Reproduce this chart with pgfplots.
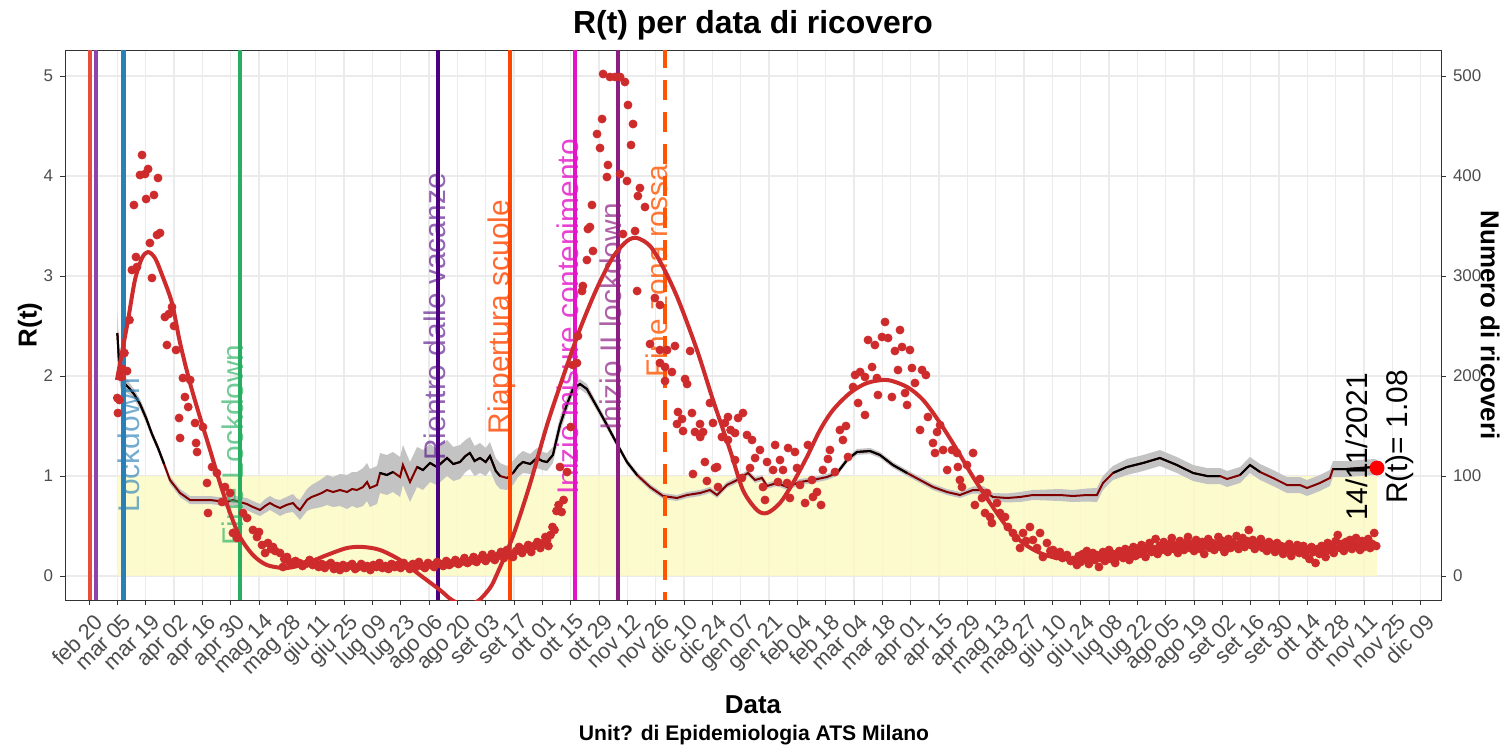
\documentclass[border=0pt]{standalone}
\usepackage{fontspec}
\setmainfont{Liberation Sans}
\usepackage{pgfplots}
\pgfplotsset{compat=1.18}
\usepackage{pgfplotstable}
\usepgfplotslibrary{fillbetween}

\definecolor{ptred}{RGB}{206,44,44}
\definecolor{rdark}{RGB}{128,0,0}
\definecolor{ribbon}{RGB}{195,195,195}
\definecolor{band}{RGB}{252,250,196}
\definecolor{gridc}{RGB}{235,235,235}
\definecolor{frame}{RGB}{51,51,51}
\definecolor{ticktxt}{RGB}{77,77,77}
\definecolor{vred}{RGB}{231,76,60}
\definecolor{vpurple}{RGB}{142,68,173}
\definecolor{lockblue}{RGB}{41,128,185}
\definecolor{finegreen}{RGB}{39,174,96}
\definecolor{rientro}{RGB}{75,0,130}
\definecolor{scuole}{RGB}{255,69,0}
\definecolor{misure}{RGB}{228,18,200}
\definecolor{lockII}{RGB}{140,30,130}
\definecolor{zonarossa}{RGB}{255,85,0}

% R(t) by day since 20/02/2020, w = half width of the band
\pgfplotstableread{
day R w
14 2.43 0.22
14.8 2.15 0.18
15.8 1.98 0.12
17.8 1.92 0.08
19.8 1.88 0.06
22.2 1.82 0.05
25.2 1.72 0.05
28.2 1.58 0.05
31.1 1.42 0.04
34.1 1.28 0.04
37.1 1.12 0.04
40.0 0.96 0.04
45.0 0.83 0.04
49.9 0.76 0.04
55 0.76 0.04
59.8 0.76 0.04
64 0.75 0.04
68.2 0.74 0.05
71 0.76 0.05
74.6 0.74 0.05
78 0.72 0.06
81.0 0.69 0.06
84.5 0.66 0.06
87 0.70 0.07
89.4 0.73 0.07
92 0.70 0.07
94.4 0.68 0.08
97.5 0.71 0.08
100.8 0.73 0.09
102.5 0.69 0.09
104.2 0.66 0.10
107.7 0.76 0.11
110 0.79 0.12
112.6 0.81 0.13
115 0.83 0.14
117.6 0.86 0.15
120.6 0.84 0.15
124 0.86 0.16
127.5 0.84 0.17
130 0.87 0.17
132.4 0.86 0.18
135.4 0.89 0.19
137.4 0.94 0.19
138.8 0.88 0.19
142.3 0.91 0.19
143.8 1.03 0.20
147.2 1.01 0.20
150.2 1.04 0.20
153.7 0.99 0.20
155.1 1.11 0.20
158.6 0.94 0.20
162.1 1.09 0.20
165.0 1.06 0.20
168.5 1.13 0.19
171.9 1.09 0.18
176.9 1.18 0.18
180 1.12 0.17
183.3 1.14 0.17
186 1.20 0.16
188.2 1.23 0.16
190.5 1.15 0.15
193.2 1.18 0.15
196 1.14 0.14
198.1 1.20 0.14
201 1.05 0.13
203.1 1.00 0.13
206.5 0.98 0.12
209.5 1.03 0.12
212 1.10 0.11
214.4 1.14 0.11
218 1.12 0.10
221.3 1.18 0.10
224 1.15 0.09
226.3 1.14 0.09
229.2 1.21 0.08
232.7 1.51 0.08
236.2 1.72 0.07
239.1 1.87 0.06
242.6 1.92 0.05
246.0 1.87 0.05
251.0 1.69 0.04
255.9 1.51 0.04
260.9 1.32 0.03
265.8 1.14 0.03
270.8 1.01 0.03
277.2 0.89 0.03
283.6 0.80 0.03
290.5 0.78 0.03
295.5 0.81 0.03
301.9 0.83 0.03
306.8 0.86 0.03
310.3 0.81 0.03
315.2 0.91 0.03
320.2 0.96 0.03
325.6 1.03 0.03
329.1 0.96 0.03
332.5 0.98 0.03
335.0 0.90 0.03
339.9 0.93 0.03
344.9 0.89 0.03
351.3 0.94 0.03
357.7 0.96 0.03
364.6 0.99 0.03
369.6 1.03 0.03
374.5 1.16 0.03
379.4 1.24 0.03
385.9 1.25 0.03
390.8 1.21 0.03
397.2 1.11 0.03
404.2 1.03 0.03
410.6 0.96 0.03
417.0 0.89 0.03
423.9 0.84 0.03
430.3 0.81 0.03
436.8 0.86 0.035
441.7 0.86 0.04
446.6 0.79 0.04
453.6 0.78 0.045
460.0 0.79 0.05
466.4 0.81 0.05
473.3 0.81 0.055
479.7 0.81 0.06
486.2 0.80 0.06
493.1 0.81 0.065
498.0 0.81 0.07
501.0 0.93 0.07
505.9 1.03 0.07
512.8 1.09 0.08
520.8 1.13 0.08
529.1 1.18 0.08
537.5 1.11 0.08
545.5 1.03 0.08
552.4 1.00 0.08
558.8 1.00 0.08
562.3 0.97 0.08
568.7 1.01 0.08
573.6 1.11 0.08
578.6 1.04 0.08
585.0 0.98 0.08
591.9 0.91 0.08
598.3 0.91 0.08
601.8 0.88 0.08
608.2 0.93 0.08
613.1 0.98 0.08
614.6 1.07 0.08
621.5 1.07 0.08
627.9 1.08 0.08
635.3 1.09 0.08
636.4 1.08 0.08
}\rtdata

\newcommand{\evfont}{\fontsize{15}{18}\selectfont}

\begin{document}
\begin{tikzpicture}
\begin{axis}[
  at={(0,0)}, anchor=south west,
  width=688bp, height=275bp, scale only axis,
  xmin=-11.86, xmax=668, ymin=-0.24, ymax=5.26,
  axis line style={frame, line width=0.5bp},
  tick pos=left, tick align=outside,
  major tick length=2.5bp,
  tick style={frame, line width=0.5bp},
  xtick={0,14,...,658},
  xticklabels={feb 20,mar 05,mar 19,apr 02,apr 16,apr 30,mag 14,mag 28,giu 11,giu 25,lug 09,lug 23,ago 06,ago 20,set 03,set 17,ott 01,ott 15,ott 29,nov 12,nov 26,dic 10,dic 24,gen 07,gen 21,feb 04,feb 18,mar 04,mar 18,apr 01,apr 15,apr 29,mag 13,mag 27,giu 10,giu 24,lug 08,lug 22,ago 05,ago 19,set 02,set 16,set 30,ott 14,ott 28,nov 11,nov 25,dic 09},
  ytick={0,1,2,3,4,5},
  /pgf/number format/assume math mode=true,
  xticklabel style={font=\fontsize{11}{13}\selectfont, text=ticktxt, rotate=45, anchor=north east, inner sep=1bp, yshift=-3bp},
  yticklabel style={font=\fontsize{8.5}{10}\selectfont, text=ticktxt},
  grid=major, grid style={gridc, line width=0.7bp},
]
\addplot[fill=band, fill opacity=0.85, draw=none, on layer=pre main] coordinates {(14,0) (636.4,0) (636.4,1) (14,1)} -- cycle;
\addplot[draw=none, name path=hi] table[x=day, y expr=\thisrow{R}+\thisrow{w}] {\rtdata};
\addplot[draw=none, name path=lo] table[x=day, y expr=\thisrow{R}-\thisrow{w}] {\rtdata};
\addplot[ribbon, draw=none] fill between[of=hi and lo];
\addplot[rdark, line width=1bp] table[x=day, y=R] {\rtdata};
\addplot[black, line width=1bp, restrict y to domain=1:10, unbounded coords=jump] table[x=day, y=R] {\rtdata};

\addplot[vred, line width=2.2bp] coordinates {(0.5,-1) (0.5,6)};
\addplot[vpurple, line width=2.2bp] coordinates {(3.5,-1) (3.5,6)};
\addplot[lockblue, line width=2.2bp] coordinates {(17,-1) (17,6)};
\addplot[finegreen, line width=2.2bp] coordinates {(74.5,-1) (74.5,6)};
\addplot[rientro, line width=2.2bp] coordinates {(172.5,-1) (172.5,6)};
\addplot[scuole, line width=2.2bp] coordinates {(208,-1) (208,6)};
\addplot[misure, line width=2.2bp] coordinates {(240,-1) (240,6)};
\addplot[lockII, line width=2.2bp] coordinates {(261.4,-1) (261.4,6)};
\addplot[zonarossa, line width=2.2bp, dash pattern=on 10bp off 6bp] coordinates {(284.6,-1) (284.6,6)};

\node[rotate=90, text=lockblue, text opacity=0.65, font=\evfont] at (axis cs:19.8,1.31) {Lockdown};
\node[rotate=90, text=finegreen, text opacity=0.65, font=\evfont] at (axis cs:70.9,1.31) {Fine Lockdown};
\node[rotate=90, text=rientro, text opacity=0.6, font=\evfont] at (axis cs:171,2.59) {Rientro dalle vacanze};
\node[rotate=90, text=scuole, text opacity=0.8, font=\evfont] at (axis cs:204,2.59) {Riapertura scuole};
\node[rotate=90, text=misure, text opacity=0.8, font=\evfont] at (axis cs:236.7,2.59) {Inizio misure contenimento};
\node[rotate=90, text=lockII, text opacity=0.7, font=\evfont] at (axis cs:258,2.59) {Inizio II lockdown};
\node[rotate=90, text=zonarossa, text opacity=0.8, font=\evfont] at (axis cs:280.6,3.05) {Fine zona rossa};

\addplot[only marks, mark=*, mark size=3.5bp, color=red] coordinates {(636.4,1.08)};
\node[rotate=90, font=\evfont] at (axis cs:626.5,1.29) {14/11/2021};
\node[rotate=90, font=\evfont] at (axis cs:647.7,1.39) {R(t)= 1.08};
\end{axis}

\begin{axis}[
  at={(0,0)}, anchor=south west,
  width=688bp, height=275bp, scale only axis,
  xmin=-11.86, xmax=668, ymin=-24, ymax=526,
  axis x line=none, axis y line*=right,
  axis line style={frame, line width=0.5bp},
  tick align=outside, major tick length=2.5bp,
  tick style={frame, line width=0.5bp},
  ytick={0,100,...,500},
  /pgf/number format/assume math mode=true,
  yticklabel style={font=\fontsize{8.5}{10}\selectfont, text=ticktxt},
]
\addplot[only marks, mark=*, mark size=2bp, color=ptred] coordinates {
(14,178) (14.3,163) (15,176) (16,199) (16.5,207) (17.5,223) (18.8,205) (20,256) (21.2,306) (22.2,371)
(23.2,319) (23.7,309) (25.2,401) (26.2,421) (27.7,402) (28.2,377) (29.2,407) (30.1,333) (31.1,298) (32.1,381)
(33.6,341) (34.1,398) (35.1,343) (37.5,259) (38.5,231) (39.5,262) (41,269) (42,250) (43,226) (44.5,158)
(45,138) (46.4,198) (47.4,179) (49,169) (50,196) (52.4,153) (52.9,133) (53.4,124) (56.3,149) (58.3,93)
(58.8,63) (60.8,109) (63.2,103) (65.7,74) (67.2,89) (69.7,83) (71.1,43) (73.1,38) (76.1,63) (78.1,58)
(81,46) (83,39) (84,44) (85.5,31) (87,23) (88.4,33) (90,27) (90.9,29) (92,25) (94.4,23)
(95.8,9) (96.5,17) (97.8,19) (99,14) (100.5,12) (102,15) (104,13) (105.5,10) (107,12) (109,16)
(110.5,11) (112,14) (113.5,9) (115,12) (116.5,8) (118,11) (119.5,13) (121,7) (122.5,10) (124,6)
(125.5,11) (127,8) (128.5,10) (130,12) (131.5,7) (133,9) (134.5,12) (136,8) (137.5,10) (139,6)
(140.5,11) (142,9) (143.5,13) (145,8) (146.5,10) (148,7) (149.5,12) (151,9) (152.5,11) (154,8)
(155.5,13) (157,10) (158.5,7) (160,12) (161.5,9) (163,14) (164.5,10) (166,8) (167.5,13) (169,11)
(170.5,9) (172,14) (173.5,12) (175,10) (176.5,15) (178,11) (179.5,13) (181,16) (182.5,12) (184,14)
(185.5,18) (187,13) (188.5,15) (190,19) (191.5,14) (193,17) (194.5,21) (196,15) (197.5,18) (199,22)
(200.5,16) (202,20) (203.5,24) (205,18) (206.5,26) (208,21) (209.5,19) (211,25) (212.5,29) (214,23)
(215.5,27) (217,31) (218.5,24) (220,30) (221.5,34) (223,28) (224.5,33) (225.5,39) (226.3,36) (227,30)
(228,41) (229,49) (230,46) (231,65) (232,71) (232.7,109) (233.5,64) (234.5,76) (236.2,104) (238,149)
(239.1,211) (241.1,213) (241.6,240) (243.6,285) (244,290) (246,316) (246.5,347) (247.5,349) (248.5,371) (249,325)
(251,442) (252.5,428) (253.5,457) (254,502) (255.9,399) (256.4,411) (257.4,499) (259.9,499) (262.4,499) (262.4,402)
(263.8,342) (264.8,494) (265.8,395) (266.3,471) (267.8,431) (268.8,452) (269.8,345) (270.8,285) (271.2,380) (272.2,388)
(274.7,369) (277.2,232) (279.6,278) (282.1,271) (282.1,226) (282.1,213) (284.6,209) (284.6,195) (285.6,226) (288,204)
(289.5,230) (290.5,152) (291,164) (293,157) (293.5,145) (294.5,197) (295.5,192) (297,225) (297.9,163) (298.4,102)
(299.4,144) (301.9,152) (302,139) (303.4,144) (304.3,114) (305.3,95) (306.8,173) (308.3,153) (309.3,108) (310.3,109)
(310.8,89) (312.7,139) (314.2,153) (315.7,159) (315.7,136) (317,146) (319.2,143) (319.2,116) (320.7,158) (322.6,98)
(323.1,163) (325.1,141) (326.6,108) (327.6,136) (329.1,118) (331.5,126) (333,89) (334,76) (335,114) (338,106)
(339,131) (340.4,94) (341.4,116) (342.9,106) (344.9,93) (345.4,128) (346.3,78) (348.8,124) (349.8,108) (351.3,91)
(353.8,73) (355.2,131) (357.2,96) (357.7,79) (359.7,84) (361.7,71) (362.6,106) (365.1,117) (366.1,126) (368.6,104)
(371,146) (372.5,136) (374,150) (375,119) (377.5,189) (378.5,201) (380,173) (381,204) (383.4,199) (383.4,161)
(384.9,236) (386.9,209) (388.3,231) (389.3,198) (389.8,181) (391.8,239) (393.3,254) (394.8,238) (396.7,179) (398.2,225)
(399.7,206) (400.7,246) (401.7,229) (403.2,183) (404.2,171) (405.6,226) (406.6,208) (408.1,193) (410.6,146) (411.6,206)
(413.5,201) (414.5,159) (417,133) (418,123) (419,144) (420.5,151) (422,126) (424,106) (426.4,126) (428.9,123)
(429.3,109) (430.3,96) (431.3,89) (433.8,111) (436.8,123) (437.7,71) (440.2,97) (441.2,78) (442.7,63) (443.7,83)
(445.2,59) (446.1,53) (448.6,73) (450.1,63) (452.6,59) (454,49) (456.5,43) (458,38) (460,28) (461.5,43)
(463,35) (464.9,49) (466.4,36) (468.4,28) (469.9,43) (471.3,19) (473.3,33) (475,25) (476.3,26) (478,20)
(479.7,24) (481,18) (483.2,21) (485,15) (486.2,16) (488.1,11)
(489,20) (490,14) (491,22) (492,17) (493,25) (494,12) (495,19) (496,23) (497,16) (498,21)
(499,9) (500,18) (501,24) (502,15) (503,20) (504,26) (505,17) (506,22) (507,13) (508,19)
(509,25) (510,21) (511,18) (512,27) (513,23) (514,16) (515,24) (516,29) (517,20) (518,26)
(519,22) (520,31) (521,25) (522,19) (523,28) (524,33) (525,24) (526,27) (527,37) (528,22)
(529,30) (530,26) (531,34) (532,29) (533,24) (534,32) (535,38) (536,27) (537,31) (538,23)
(539,35) (540,30) (541,26) (542,33) (543,39) (544,28) (545,32) (546,25) (547,36) (548,31)
(549,27) (550,34) (551,22) (552,30) (553,37) (554,28) (555,33) (556,26) (557,31) (558,39)
(559,29) (560,35) (561,24) (562,32) (563,37) (564,28) (565,34) (566,30) (567,40) (568,27)
(569,33) (570,38) (571,29) (572,35) (573,46) (574,31) (575,36) (576,27) (577,33) (578,30)
(579,37) (580,28) (581,32) (582,25) (583,34) (584,29) (585,31) (586,24) (587,33) (588,27)
(589,30) (590,22) (591,29) (592,26) (593,32) (594,20) (595,28) (596,25) (597,31) (598,23)
(599,27) (600,30) (601,21) (602,26) (603,17) (604,29) (605,24) (606,13) (607,27) (608,22)
(609,30) (610,25) (611,19) (612,33) (613,26) (614,31) (615,23) (616,35) (617,41) (618,28)
(619,32) (620,25) (621,34) (622,29) (623,36) (624,27) (625,31) (626,38) (627,30) (628,26)
(629,35) (630,29) (631,33) (632,37) (633,28) (634,32) (635,43) (636,30)
};
\addplot[ptred, line width=2bp, smooth] coordinates {
(13.8,196) (16.8,229) (19.3,256) (22.7,296) (26.2,318) (29.2,324) (32.6,318) (36.1,301) (41.0,273)
(45.0,233) (49.9,193) (54.8,159) (59.8,126) (64.7,93) (69.7,63) (74.6,39) (81.0,21) (87.9,11)
(97.8,8) (107.7,13) (117.6,21) (127.5,28) (135.4,29) (143.8,26) (153.7,16) (163.5,1) (173.4,-14)
(179.3,-24) (185.8,-29) (192.2,-25) (198.1,-12) (201.6,2) (209.5,40) (217.9,92) (226.3,151) (234.2,199)
(242.6,247) (251.0,288) (258.9,319) (265.8,335) (270.8,338) (277.2,330) (283.6,309) (291,277)
(300.4,226) (308.3,176) (316.7,126) (323.1,86) (330.0,66) (335.0,63) (341.4,73) (347.8,93) (354.7,119)
(361.2,146) (367.6,166) (376.0,183) (384.4,193) (394.3,196) (404.2,189) (412.1,176) (420.5,153)
(428.9,126) (436.8,99) (445.2,73) (453.6,49) (461.5,33) (469.9,23) (478.3,18) (489.6,16) (499.5,19)
(524.2,26) (548.9,30) (573.6,31) (598.3,28) (623.0,29) (636.4,31)
};
\end{axis}

\node[font=\bfseries\fontsize{16}{19}\selectfont] at (344bp,287.5bp) {R(t) per data di ricovero};
\node[font=\bfseries\fontsize{13}{15}\selectfont] at (344bp,-52.5bp) {Data};
\node[font=\bfseries\fontsize{10.6}{13}\selectfont] at (344.5bp,-67.5bp) {Unit? di Epidemiologia ATS Milano};
\node[font=\bfseries\fontsize{13}{15}\selectfont, rotate=90] at (-17.5bp,137.5bp) {R(t)};
\node[font=\bfseries\fontsize{13}{15}\selectfont, rotate=-90] at (712.5bp,137.5bp) {Numero di ricoveri};

\pgfresetboundingbox
\path (-32.5bp,-73.5bp) rectangle (720.5bp,300bp);
\end{tikzpicture}
\end{document}
